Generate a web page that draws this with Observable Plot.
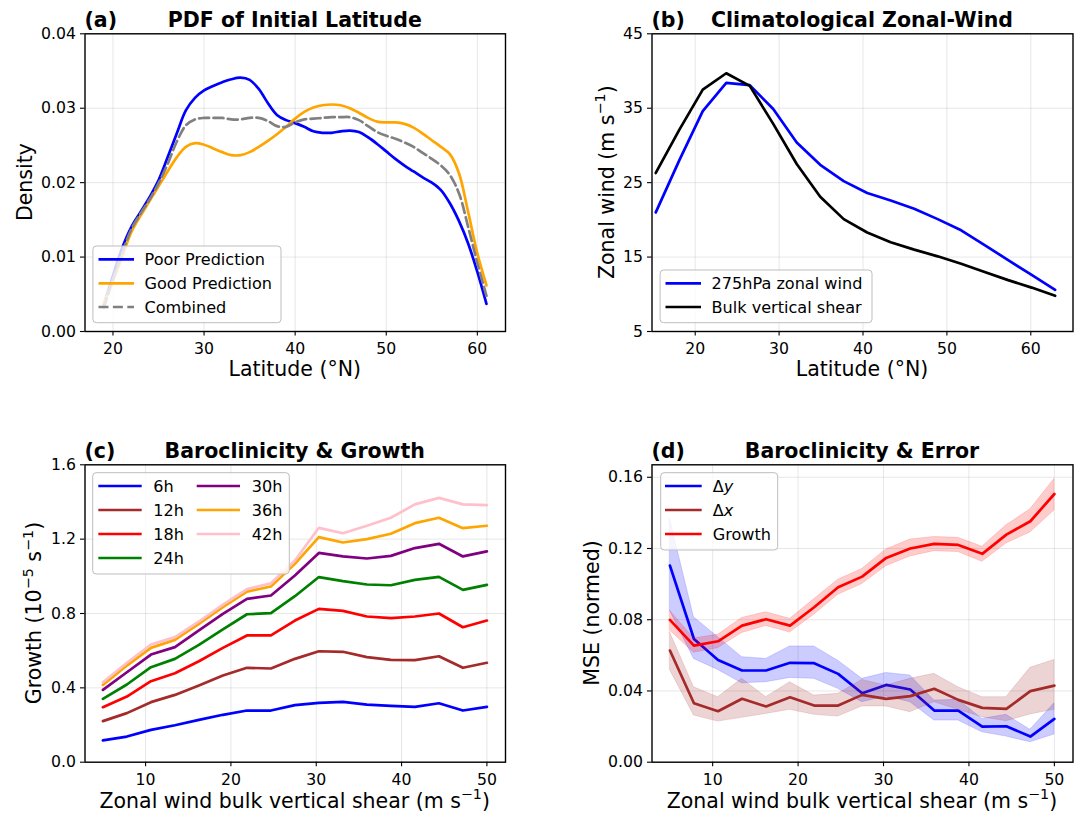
<!DOCTYPE html>
<html><head><meta charset="utf-8">
<script src="https://cdn.jsdelivr.net/npm/d3@7"></script>
<script src="https://cdn.jsdelivr.net/npm/@observablehq/plot@0.6"></script>
<style>
body{margin:0;background:#fff;}
#wrap{position:relative;width:1077px;height:813px;font-family:"DejaVu Sans",sans-serif;}
#wrap > svg{position:absolute;left:0;top:0;}
</style></head><body><div id="wrap"></div>
<script>
// ---------- DATA ----------
// (a) PDF of initial latitude
const latA = [19,20,21,22,23,24,25,26,27,28,29,30,31,32,33,34,35,36,37,38,39,40,41,42,43,44,45,46,47,48,49,50,51,52,53,54,55,56,57,58,59,60,61];
const poorA = [0.0036,0.0075,0.0112,0.0140,0.0160,0.0180,0.0203,0.0234,0.0266,0.0297,0.0314,0.0324,0.0330,0.0335,0.0339,0.0341,0.0338,0.0326,0.0307,0.0291,0.0284,0.0280,0.0275,0.0269,0.0267,0.0267,0.0269,0.0270,0.0268,0.0261,0.0252,0.0242,0.0232,0.0223,0.0215,0.0207,0.0200,0.0190,0.0172,0.0148,0.0118,0.0080,0.0037];
const goodA = [0.0038,0.0068,0.0100,0.0133,0.0155,0.0175,0.0195,0.0215,0.0234,0.0248,0.0253,0.0251,0.0246,0.0241,0.0237,0.0237,0.0241,0.0248,0.0256,0.0265,0.0275,0.0286,0.0295,0.0301,0.0304,0.0305,0.0304,0.0300,0.0294,0.0287,0.0282,0.0281,0.0281,0.0279,0.0274,0.0266,0.0257,0.0248,0.0238,0.0212,0.0160,0.0105,0.0062];
const combA = [0.0032,0.0070,0.0105,0.0137,0.0158,0.0177,0.0199,0.0225,0.0255,0.0277,0.0285,0.0287,0.0287,0.0287,0.0285,0.0285,0.0287,0.0287,0.0283,0.0276,0.0275,0.0281,0.0285,0.0286,0.0287,0.0288,0.0288,0.0288,0.0284,0.0276,0.0268,0.0263,0.0259,0.0254,0.0248,0.0240,0.0232,0.0223,0.0210,0.0185,0.0140,0.0092,0.0048];

// (b) climatological zonal wind
const latB = [15.3,18.1,20.9,23.7,26.5,29.3,32.1,34.9,37.7,40.5,43.3,46.1,48.9,51.7,54.5,57.3,60.1,62.9];
const wind275 = [21.0,28.0,34.6,38.4,38.1,34.9,30.4,27.4,25.2,23.6,22.6,21.5,20.1,18.6,16.6,14.6,12.6,10.6];
const shearB = [26.3,32.1,37.5,39.7,38.0,32.9,27.5,23.1,20.1,18.3,17.0,16.0,15.1,14.1,13.0,11.9,10.9,9.8];

// (c) baroclinicity & growth
const shearX = [5,7.81,10.63,13.44,16.25,19.06,21.88,24.69,27.5,30.31,33.13,35.94,38.75,41.56,44.38,47.19,50];
const leadLabels = ["6h","12h","18h","24h","30h","36h","42h"];
const leadColors = ["blue","brown","red","green","purple","orange","pink"];
const g6h  = [0.117,0.138,0.174,0.199,0.228,0.255,0.278,0.278,0.307,0.319,0.325,0.310,0.303,0.298,0.317,0.278,0.298];
const g12h = [0.221,0.264,0.323,0.362,0.413,0.466,0.508,0.504,0.556,0.597,0.594,0.565,0.551,0.549,0.570,0.508,0.535];
const g18h = [0.296,0.353,0.436,0.479,0.543,0.615,0.682,0.682,0.762,0.825,0.814,0.784,0.775,0.784,0.800,0.726,0.762];
const g24h = [0.341,0.418,0.511,0.556,0.631,0.714,0.796,0.802,0.893,0.996,0.974,0.956,0.952,0.981,0.997,0.927,0.954];
const g30h = [0.389,0.484,0.579,0.619,0.709,0.798,0.879,0.897,1.004,1.126,1.107,1.096,1.110,1.152,1.175,1.107,1.134];
const g36h = [0.416,0.520,0.615,0.658,0.744,0.834,0.918,0.945,1.067,1.211,1.182,1.200,1.229,1.286,1.315,1.259,1.272];
const g42h = [0.430,0.535,0.633,0.673,0.757,0.848,0.931,0.963,1.085,1.261,1.232,1.272,1.315,1.387,1.422,1.387,1.383];
const growthSeries = [g6h,g12h,g18h,g24h,g30h,g36h,g42h];

// (d) baroclinicity & error
const dyMean = [0.1104,0.0692,0.0574,0.0515,0.0515,0.0558,0.0556,0.0496,0.0387,0.0434,0.0408,0.0290,0.0290,0.0200,0.0202,0.0144,0.0243];
const dyHi   = [0.1366,0.0814,0.0702,0.0590,0.0580,0.0650,0.0650,0.0570,0.0468,0.0501,0.0487,0.0346,0.0350,0.0243,0.0266,0.0182,0.0331];
const dyLo   = [0.0851,0.0580,0.0518,0.0443,0.0449,0.0473,0.0468,0.0412,0.0337,0.0369,0.0337,0.0234,0.0234,0.0168,0.0144,0.0112,0.0155];
const dxMean = [0.0627,0.0331,0.0286,0.0356,0.0313,0.0365,0.0318,0.0318,0.0378,0.0356,0.0371,0.0412,0.0350,0.0305,0.0299,0.0399,0.0430];
const dxHi   = [0.0730,0.0421,0.0365,0.0468,0.0365,0.0449,0.0374,0.0384,0.0462,0.0430,0.0468,0.0496,0.0421,0.0365,0.0365,0.0530,0.0574];
const dxLo   = [0.0518,0.0262,0.0228,0.0249,0.0271,0.0294,0.0266,0.0256,0.0313,0.0313,0.0281,0.0337,0.0294,0.0253,0.0230,0.0268,0.0294];
const grMean = [0.0799,0.0655,0.0679,0.0767,0.0803,0.0767,0.0870,0.0982,0.1042,0.1147,0.1200,0.1226,0.1220,0.1170,0.1278,0.1353,0.1506];
const grHi   = [0.0851,0.0695,0.0715,0.0810,0.0842,0.0805,0.0915,0.1025,0.1085,0.1195,0.1250,0.1265,0.1260,0.1210,0.1330,0.1420,0.1590];
const grLo   = [0.0739,0.0615,0.0640,0.0725,0.0765,0.0728,0.0828,0.0940,0.1000,0.1100,0.1155,0.1185,0.1180,0.1125,0.1228,0.1290,0.1413];

// tick values
const ticksA_x = [20,30,40,50,60], ticksA_y = [0,0.01,0.02,0.03,0.04];
const ticksB_x = [20,30,40,50,60], ticksB_y = [5,15,25,35,45];
const ticksC_x = [10,20,30,40,50], ticksC_y = [0,0.4,0.8,1.2,1.6];
const ticksD_x = [10,20,30,40,50], ticksD_y = [0,0.04,0.08,0.12,0.16];

// ---------- LAYOUT ----------
const W = 1077, H = 813;
const FONT = '"DejaVu Sans", sans-serif';
const TICK = 15.7, LEG = 16.1, LAB = 20.5;
const LW = 2.7;
const wrap = document.getElementById("wrap");

function panel({frame:[x0,x1,y0,y1], xDomain, yDomain, xTicks, yTicks, xFmt, yFmt, marks}) {
  const grid = {stroke:"#b0b0b0", strokeOpacity:0.35, strokeWidth:0.9};
  return Plot.plot({
    width: W, height: H,
    marginLeft: x0, marginRight: W - x1, marginTop: y0, marginBottom: H - y1,
    style: {fontFamily: FONT, fontSize: TICK + "px", color: "black", background: "transparent", overflow: "visible"},
    x: {domain: xDomain}, y: {domain: yDomain},
    marks: [
      Plot.gridX(xTicks, grid),
      Plot.gridY(yTicks, grid),
      ...marks,
      Plot.frame({stroke: "black", strokeWidth: 1.4}),
      Plot.axisX(xTicks, {tickSize: 4.5, tickPadding: 7, label: null, fontSize: TICK, strokeWidth: 1.1, tickFormat: xFmt}),
      Plot.axisY(yTicks, {tickSize: 4.5, tickPadding: 4.5, label: null, fontSize: TICK, strokeWidth: 1.1, tickFormat: yFmt})
    ]
  });
}

const FA = [84.5, 505, 33.3, 331], FB = [651.5, 1072.5, 33.3, 331];
const FC = [84.5, 505, 464.3, 761.7], FD = [651.5, 1072.5, 464.3, 761.7];

// (a)
wrap.append(panel({
  frame: FA, xDomain: [16.93, 63.09], yDomain: [0, 0.04],
  xTicks: ticksA_x, yTicks: ticksA_y, xFmt: d3.format("d"), yFmt: d3.format(".2f"),
  marks: [
    Plot.lineY(poorA, {x: latA, stroke: "blue", strokeWidth: LW, curve: "catmull-rom"}),
    Plot.lineY(goodA, {x: latA, stroke: "orange", strokeWidth: LW, curve: "catmull-rom"}),
    Plot.lineY(combA, {x: latA, stroke: "gray", strokeWidth: LW, strokeDasharray: "10,4.4", curve: "catmull-rom"})
  ]
}));
// (b)
wrap.append(panel({
  frame: FB, xDomain: [14.85, 65.03], yDomain: [5, 45],
  xTicks: ticksB_x, yTicks: ticksB_y, xFmt: d3.format("d"), yFmt: d3.format("d"),
  marks: [
    Plot.lineY(wind275, {x: latB, stroke: "blue", strokeWidth: LW}),
    Plot.lineY(shearB, {x: latB, stroke: "black", strokeWidth: LW})
  ]
}));
// (c)
wrap.append(panel({
  frame: FC, xDomain: [2.9, 52.18], yDomain: [0, 1.6],
  xTicks: ticksC_x, yTicks: ticksC_y, xFmt: d3.format("d"), yFmt: d3.format(".1f"),
  marks: growthSeries.map((s, i) => Plot.lineY(s, {x: shearX, stroke: leadColors[i], strokeWidth: LW}))
}));
// (d)
const bandD = (lo, hi, color) => Plot.areaY(shearX, {x: shearX, y1: lo, y2: hi, fill: color, fillOpacity: 0.2, stroke: color, strokeOpacity: 0.15, strokeWidth: 1});
wrap.append(panel({
  frame: FD, xDomain: [2.9, 52.18], yDomain: [0, 0.167],
  xTicks: ticksD_x, yTicks: ticksD_y, xFmt: d3.format("d"), yFmt: d3.format(".2f"),
  marks: [
    bandD(dyLo, dyHi, "blue"),
    Plot.lineY(dyMean, {x: shearX, stroke: "blue", strokeWidth: LW}),
    bandD(dxLo, dxHi, "brown"),
    Plot.lineY(dxMean, {x: shearX, stroke: "brown", strokeWidth: LW}),
    bandD(grLo, grHi, "red"),
    Plot.lineY(grMean, {x: shearX, stroke: "red", strokeWidth: LW})
  ]
}));

// ---------- TEXT OVERLAY (titles, axis labels, legends) ----------
const svg = d3.select(wrap).append("svg").attr("width", W).attr("height", H)
  .style("font-family", FONT).style("overflow", "visible");

function richText(g, parts, size) {
  // parts: [text, kind] kind: "n" normal, "s" superscript, "i" italic
  const t = g.append("text").attr("font-size", size);
  const shift = size * 0.42;
  let up = false;
  parts.forEach(([txt, kind]) => {
    const sp = t.append("tspan").text(txt);
    if (kind === "s") { sp.attr("font-size", size * 0.7).attr("dy", -shift); up = true; }
    else { if (up) { sp.attr("dy", shift); up = false; } if (kind === "i") sp.attr("font-style", "italic"); }
  });
  return t;
}

function titles(frame, tag, title) {
  const [x0, x1, y0] = frame;
  svg.append("text").attr("x", x0).attr("y", y0 - 6.3).attr("font-size", LAB).attr("font-weight", "bold").text(tag);
  svg.append("text").attr("x", (x0 + x1) / 2).attr("y", y0 - 6.3).attr("text-anchor", "middle")
    .attr("font-size", LAB).attr("font-weight", "bold").text(title);
}
titles(FA, "(a)", "PDF of Initial Latitude");
titles(FB, "(b)", "Climatological Zonal-Wind");
titles(FC, "(c)", "Baroclinicity & Growth");
titles(FD, "(d)", "Baroclinicity & Error");

function xLabel(frame, baseline, parts) {
  const g = svg.append("g").attr("transform", `translate(${(frame[0] + frame[1]) / 2},${baseline})`);
  richText(g, parts, LAB).attr("text-anchor", "middle");
}
function yLabel(frame, bx, parts) {
  const cy = (frame[2] + frame[3]) / 2;
  const g = svg.append("g").attr("transform", `translate(${bx},${cy}) rotate(-90)`);
  richText(g, parts, LAB).attr("text-anchor", "middle");
}
xLabel(FA, 375.5, [["Latitude (°N)", "n"]]);
xLabel(FB, 375.5, [["Latitude (°N)", "n"]]);
xLabel(FC, 808, [["Zonal wind bulk vertical shear (m s", "n"], ["−1", "s"], [")", "n"]]);
xLabel(FD, 808, [["Zonal wind bulk vertical shear (m s", "n"], ["−1", "s"], [")", "n"]]);
yLabel(FA, 32, [["Density", "n"]]);
yLabel(FB, 614, [["Zonal wind (m s", "n"], ["−1", "s"], [")", "n"]]);
yLabel(FC, 41.3, [["Growth (10", "n"], ["−5", "s"], [" s", "n"], ["−1", "s"], [")", "n"]]);
yLabel(FD, 599, [["MSE (normed)", "n"]]);

// legends: box [left, top, right, bottom]; items {parts, color, dash, col, row}
function legend(box, items, rowY, cols) {
  const [l, t, r, b] = box;
  svg.append("rect").attr("x", l).attr("y", t).attr("width", r - l).attr("height", b - t)
    .attr("rx", 3.5).attr("fill", "white").attr("fill-opacity", 0.8).attr("stroke", "#bdbdbd").attr("stroke-width", 1);
  items.forEach((it) => {
    const c = cols[it.col];
    const y = rowY[it.row];
    svg.append("line").attr("x1", c.l1).attr("x2", c.l2).attr("y1", y).attr("y2", y)
      .attr("stroke", it.color).attr("stroke-width", LW).attr("stroke-dasharray", it.dash || null);
    const g = svg.append("g").attr("transform", `translate(${c.tx},${y})`);
    richText(g, it.parts, LEG).attr("dy", "0.36em");
  });
}
legend([92.9, 246, 281, 322.7], [
  {parts: [["Poor Prediction", "n"]], color: "blue", col: 0, row: 0},
  {parts: [["Good Prediction", "n"]], color: "orange", col: 0, row: 1},
  {parts: [["Combined", "n"]], color: "gray", dash: "10,4.4", col: 0, row: 2}
], [259.3, 283.3, 307], [{l1: 98.5, l2: 134, tx: 144.5}]);

legend([660.1, 270, 872, 322.7], [
  {parts: [["275hPa zonal wind", "n"]], color: "blue", col: 0, row: 0},
  {parts: [["Bulk vertical shear", "n"]], color: "black", col: 0, row: 1}
], [283.3, 307], [{l1: 665.5, l2: 701, tx: 711.5}]);

legend([92.7, 472.7, 289.3, 574], leadLabels.map((lab, i) => ({
  parts: [[lab, "n"]], color: leadColors[i], col: i < 4 ? 0 : 1, row: i < 4 ? i : i - 4
})), [486, 510, 534, 558], [{l1: 98.3, l2: 141.7, tx: 153.3}, {l1: 196.7, l2: 240, tx: 251.7}]);

legend([660.7, 472.7, 777.7, 550], [
  {parts: [["Δ", "n"], ["y", "i"]], color: "blue", col: 0, row: 0},
  {parts: [["Δ", "n"], ["x", "i"]], color: "brown", col: 0, row: 1},
  {parts: [["Growth", "n"]], color: "red", col: 0, row: 2}
], [486, 510, 534], [{l1: 665, l2: 701.7, tx: 712.7}]);
</script></body></html>
